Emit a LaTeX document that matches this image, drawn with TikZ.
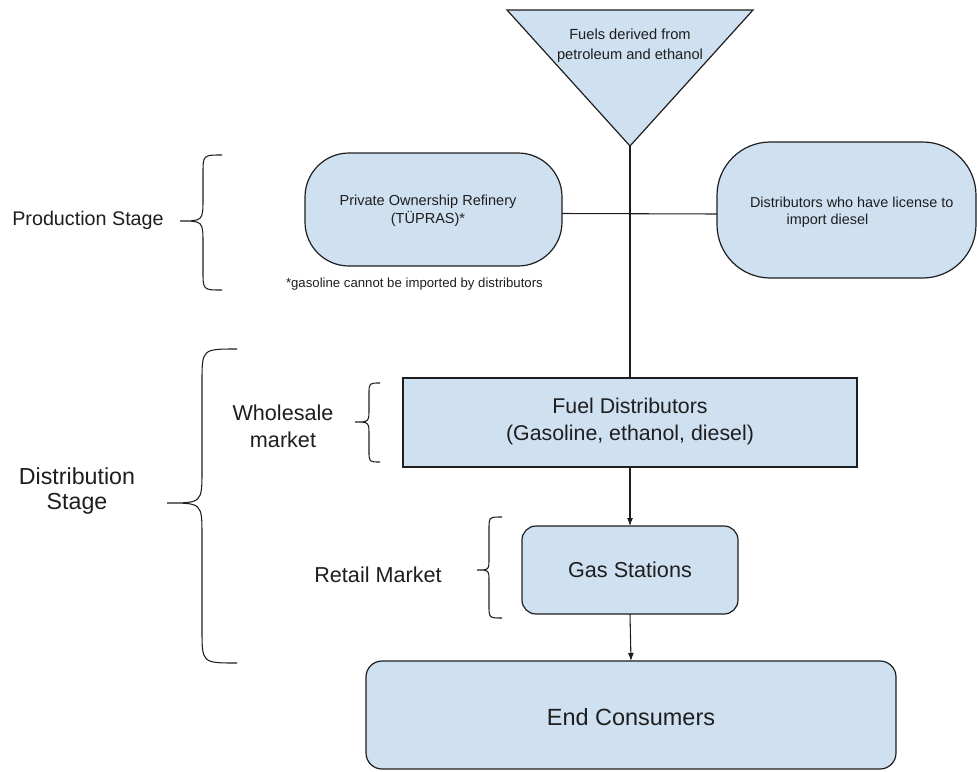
\documentclass[tikz,border=0pt]{standalone}
\usepackage{fontspec}
\setmainfont{Liberation Sans}
\usetikzlibrary{arrows.meta}
\definecolor{boxfill}{HTML}{CFE0F1}
\definecolor{ink}{HTML}{1E1E1E}
\tikzset{
  shapebox/.style={draw=ink, fill=boxfill, line width=0.9pt, inner sep=0pt, outer sep=0pt},
  txt/.style={inner sep=0pt, outer sep=0pt, align=center, text=ink},
  bracepath/.style={draw=ink, line width=0.8pt},
  conn/.style={draw=ink, line width=0.8pt},
  arr/.style={conn, -{Latex[length=6pt,width=4.5pt]}},
}
\begin{document}
\begin{tikzpicture}[x=0.75pt,y=-0.75pt]
\useasboundingbox (0,0) rectangle (977,771);

% source triangle
\path[shapebox] (507,10) -- (753,10) -- (630,146) -- cycle;
\coordinate (apex) at (630,146);
\node[txt, font=\fontsize{11}{15}\selectfont] (srctext) at (630,46) {Fuels derived from\\petroleum and ethanol};

% production stage shapes
\node[shapebox, rounded corners=33pt, minimum width=192.75pt, minimum height=84.75pt] (ref) at (433.5,209.5) {};
\node[txt, font=\fontsize{10.9}{13.5}\selectfont] (reftext) at (428,211) {Private Ownership Refinery\\(TÜPRAS)*};
\node[shapebox, rounded corners=40pt, minimum width=194.25pt, minimum height=102pt] (dist) at (846.5,210) {};
\node[txt, font=\fontsize{10.8}{13}\selectfont, align=left, anchor=west] (disttext) at (750,212.5) {Distributors who have license to\\\hspace*{27.5pt}import diesel};
\node[txt, font=\fontsize{9.9}{12}\selectfont, anchor=west] (note) at (286,284) {*gasoline cannot be imported by distributors};

% distribution boxes
\node[shapebox, minimum width=340.5pt, minimum height=66.75pt] (fd) at (630,422.5) {};
\node[txt, font=\fontsize{16}{20}\selectfont] (fdtext) at (630,421.5) {Fuel Distributors\\(Gasoline, ethanol, diesel)};
\node[shapebox, rounded corners=10.5pt, minimum width=162pt, minimum height=66pt, font=\fontsize{16.2}{20}\selectfont, text=ink] (gs) at (630,570) {Gas Stations};
\node[shapebox, rounded corners=12pt, minimum width=397.5pt, minimum height=81pt] (ec) at (631,715) {};
\node[txt, font=\fontsize{17.6}{21}\selectfont] (ectext) at (631,717) {End Consumers};

% connectors
\draw[conn] (apex) -- (fd.north);
\draw[conn] ([yshift=-3pt]ref.east) -- ([yshift=-3pt]dist.west);
\draw[arr] (fd.south) -- (gs.north);
\draw[arr] (gs.south) -- (ec.north);

% stage labels
\node[txt, font=\fontsize{14.8}{18}\selectfont] (prodlbl) at (88,220) {Production Stage};
\node[txt, font=\fontsize{17.4}{19}\selectfont] (distlbl) at (77,491) {Distribution\\Stage};
\node[txt, font=\fontsize{16.2}{20}\selectfont] (wholelbl) at (283,426.5) {Wholesale\\market};
\node[txt, font=\fontsize{16.2}{20}\selectfont] (retaillbl) at (378,575) {Retail Market};

% braces
\path[bracepath] (222,155) .. controls (203,155) .. (203,174) -- (203,198) .. controls (203,221) .. (180,221) .. controls (203,221) .. (203,244) -- (203,271) .. controls (203,290) .. (222,290);
\path[bracepath] (237,349) .. controls (202,349) .. (202,382) -- (202,470) .. controls (202,503) .. (167,503) .. controls (202,503) .. (202,536) -- (202,630) .. controls (202,663) .. (237,663);
\path[bracepath] (380,383) .. controls (369,383) .. (369,394) -- (369,408) .. controls (369,422) .. (355,422) .. controls (369,422) .. (369,436) -- (369,451) .. controls (369,462) .. (380,462);
\path[bracepath] (502,517) .. controls (489,517) .. (489,530) -- (489,558) .. controls (489,570) .. (477,570) .. controls (489,570) .. (489,582) -- (489,605) .. controls (489,618) .. (502,618);
\end{tikzpicture}
\end{document}
